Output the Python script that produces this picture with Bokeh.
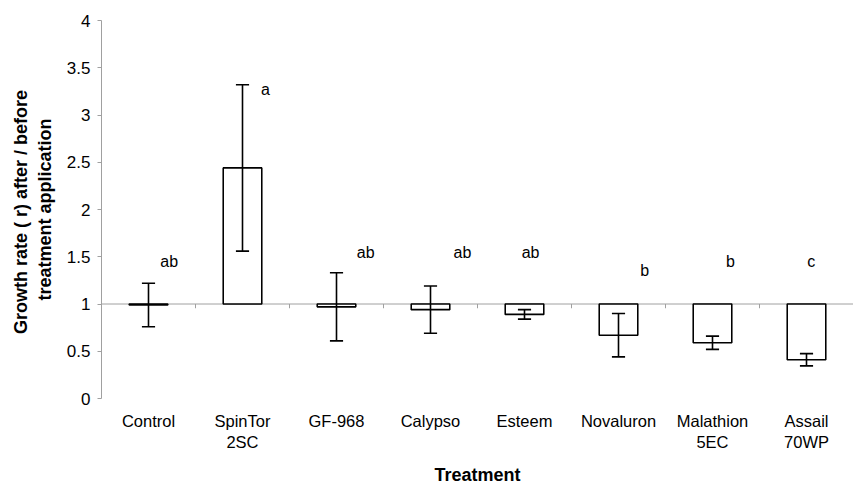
from bokeh.plotting import figure
from bokeh.models import Range1d, FixedTicker
from bokeh.embed import file_html
from bokeh.resources import INLINE
from bokeh.core.properties import value

treatments = ["Control", "SpinTor\n2SC", "GF-968", "Calypso", "Esteem", "Novaluron", "Malathion\n5EC", "Assail\n70WP"]
means = [0.99, 2.44, 0.97, 0.94, 0.89, 0.67, 0.59, 0.41]
errors = [0.23, 0.88, 0.36, 0.25, 0.05, 0.23, 0.07, 0.065]
letters = ["ab", "a", "ab", "ab", "ab", "b", "b", "c"]
letter_y = [1.45, 3.27, 1.54, 1.54, 1.54, 1.35, 1.45, 1.45]
letter_dx = [0.22, 0.245, 0.31, 0.34, 0.065, 0.28, 0.19, 0.05]
baseline = 1.0

FONT = "Liberation Sans"
n = len(treatments)
xc = [i + 0.5 for i in range(n)]

p = figure(width=853, height=488, output_backend="svg", toolbar_location=None,
           x_range=Range1d(0, n), y_range=Range1d(0, 4))
p.min_border_left = 101
p.min_border_right = 0
p.min_border_top = 20
p.min_border_bottom = 86
p.outline_line_color = None
p.grid.visible = False
p.background_fill_color = "white"

# baseline line at 1 (category axis crossing) drawn beneath the bars
p.segment(x0=[0], y0=[baseline], x1=[n], y1=[baseline], line_color="#A0A0A0", line_width=1)
bx = list(range(1, n))
p.segment(x0=bx, y0=[baseline] * len(bx), x1=bx, y1=[baseline - 0.045] * len(bx),
          line_color="#A0A0A0", line_width=1)

# bars
p.vbar(x=xc, width=0.41, bottom=[baseline] * n, top=means,
       fill_color="white", line_color="black", line_width=1.6)

# error bars
lo = [m - e for m, e in zip(means, errors)]
hi = [m + e for m, e in zip(means, errors)]
p.segment(x0=xc, y0=lo, x1=xc, y1=hi, line_color="black", line_width=1.6)
cap = 0.07
p.segment(x0=[x - cap for x in xc], y0=lo, x1=[x + cap for x in xc], y1=lo, line_color="black", line_width=1.6)
p.segment(x0=[x - cap for x in xc], y0=hi, x1=[x + cap for x in xc], y1=hi, line_color="black", line_width=1.6)

# significance letters
p.text(x=[x + d for x, d in zip(xc, letter_dx)], y=letter_y, text=letters,
       text_font=value(FONT), text_font_size="16px", text_color="black",
       text_align="center", text_baseline="middle")

# x axis
xa = p.xaxis[0]
xa.ticker = FixedTicker(ticks=xc)
xa.major_label_overrides = {x: t for x, t in zip(xc, treatments)}
xa.axis_line_color = None
xa.major_tick_line_color = None
xa.minor_tick_line_color = None
xa.major_label_text_font = FONT
xa.major_label_text_font_size = "16.5px"
xa.major_label_text_color = "black"
xa.major_label_standoff = 7
xa.axis_label = "Treatment"
xa.axis_label_text_font = FONT
xa.axis_label_text_font_size = "18px"
xa.axis_label_text_font_style = "bold"
xa.axis_label_text_color = "black"
xa.axis_label_standoff = 11

# y axis
ya = p.yaxis[0]
ya.ticker = FixedTicker(ticks=[0, 0.5, 1, 1.5, 2, 2.5, 3, 3.5, 4])
ya.major_label_overrides = {0: "0", 0.5: "0.5", 1: "1", 1.5: "1.5", 2: "2", 2.5: "2.5", 3: "3", 3.5: "3.5", 4: "4"}
ya.axis_line_color = "#A0A0A0"
ya.major_tick_line_color = "#A0A0A0"
ya.major_tick_out = 4
ya.major_tick_in = 0
ya.minor_tick_line_color = None
ya.major_label_text_font = FONT
ya.major_label_text_font_size = "17px"
ya.major_label_text_color = "black"
ya.major_label_standoff = 7
ya.axis_label = "Growth rate ( r) after /  before\ntreatment application"
ya.axis_label_text_font = FONT
ya.axis_label_text_font_size = "18px"
ya.axis_label_text_font_style = "bold"
ya.axis_label_text_color = "black"
ya.axis_label_standoff = 9

open("out.html", "w").write(file_html(p, INLINE))
